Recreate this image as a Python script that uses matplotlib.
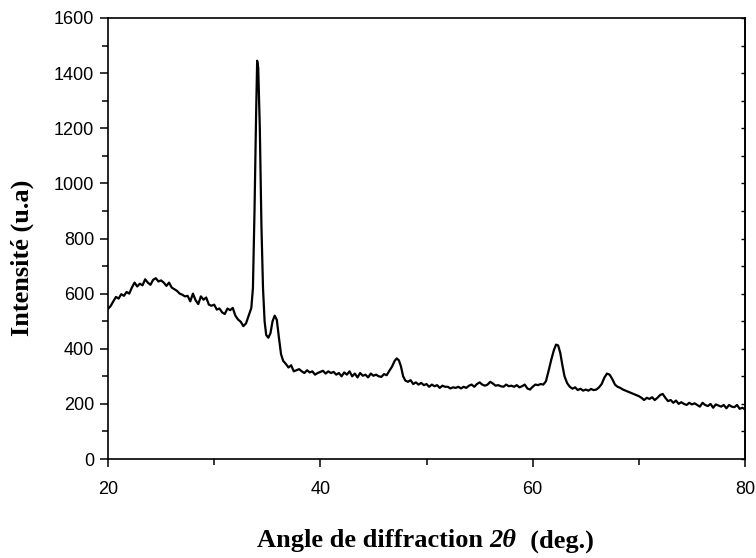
import matplotlib
matplotlib.use("Agg")
import matplotlib.pyplot as plt
from matplotlib.ticker import MultipleLocator
from matplotlib.offsetbox import TextArea, HPacker, AnchoredOffsetbox

two_theta = [
    20.00, 20.25, 20.50, 20.75, 21.00, 21.25, 21.50, 21.75, 22.00, 22.25,
    22.50, 22.75, 23.00, 23.25, 23.50, 23.75, 24.00, 24.25, 24.50, 24.75,
    25.00, 25.25, 25.50, 25.75, 26.00, 26.25, 26.50, 26.75, 27.00, 27.25,
    27.50, 27.75, 28.00, 28.25, 28.50, 28.75, 29.00, 29.25, 29.50, 29.75,
    30.00, 30.25, 30.50, 30.75, 31.00, 31.25, 31.50, 31.75, 32.00, 32.25,
    32.50, 32.75, 33.00, 33.25, 33.50, 33.65, 33.80, 33.95, 34.05, 34.15,
    34.30, 34.45, 34.60, 34.75, 34.90, 35.10, 35.30, 35.50, 35.70, 35.90,
    36.10, 36.30, 36.50, 36.75, 37.00, 37.25, 37.50, 37.75, 38.00, 38.25,
    38.50, 38.75, 39.00, 39.25, 39.50, 39.75, 40.00, 40.25, 40.50, 40.75,
    41.00, 41.25, 41.50, 41.75, 42.00, 42.25, 42.50, 42.75, 43.00, 43.25,
    43.50, 43.75, 44.00, 44.25, 44.50, 44.75, 45.00, 45.25, 45.50, 45.75,
    46.00, 46.25, 46.50, 46.75, 47.00, 47.20, 47.40, 47.60, 47.80, 48.00,
    48.25, 48.50, 48.75, 49.00, 49.25, 49.50, 49.75, 50.00, 50.25, 50.50,
    50.75, 51.00, 51.25, 51.50, 51.75, 52.00, 52.25, 52.50, 52.75, 53.00,
    53.25, 53.50, 53.75, 54.00, 54.25, 54.50, 54.75, 55.00, 55.25, 55.50,
    55.75, 56.00, 56.25, 56.50, 56.75, 57.00, 57.25, 57.50, 57.75, 58.00,
    58.25, 58.50, 58.75, 59.00, 59.25, 59.50, 59.75, 60.00, 60.25, 60.50,
    60.75, 61.00, 61.25, 61.50, 61.75, 62.00, 62.20, 62.40, 62.60, 62.80,
    63.00, 63.25, 63.50, 63.75, 64.00, 64.25, 64.50, 64.75, 65.00, 65.25,
    65.50, 65.75, 66.00, 66.25, 66.50, 66.75, 67.00, 67.25, 67.50, 67.75,
    68.00, 68.25, 68.50, 68.75, 69.00, 69.25, 69.50, 69.75, 70.00, 70.25,
    70.50, 70.75, 71.00, 71.25, 71.50, 71.75, 72.00, 72.25, 72.50, 72.75,
    73.00, 73.25, 73.50, 73.75, 74.00, 74.25, 74.50, 74.75, 75.00, 75.25,
    75.50, 75.75, 76.00, 76.25, 76.50, 76.75, 77.00, 77.25, 77.50, 77.75,
    78.00, 78.25, 78.50, 78.75, 79.00, 79.25, 79.50, 79.75, 80.00,
]

intensity = [
    545, 555, 572, 588, 582, 598, 592, 606, 600, 622,
    640, 626, 636, 630, 652, 640, 632, 650, 656, 644,
    648, 640, 628, 640, 622, 616, 610, 600, 596, 590,
    592, 572, 600, 576, 562, 590, 578, 586, 560, 556,
    560, 542, 546, 532, 526, 546, 540, 548, 520, 506,
    498, 482, 492, 520, 548, 620, 900, 1250, 1445, 1420,
    1200, 850, 620, 500, 450, 440, 456, 500, 520, 505,
    440, 380, 356, 345, 332, 340, 318, 322, 326, 318,
    312, 322, 314, 318, 306, 312, 316, 320, 310, 318,
    312, 316, 306, 312, 300, 314, 306, 318, 300, 310,
    296, 312, 302, 306, 296, 310, 302, 306, 300, 298,
    308, 304, 320, 335, 356, 365, 358, 335, 300, 285,
    280, 286, 272, 278, 270, 276, 268, 272, 262, 270,
    264, 268, 258, 266, 262, 262, 256, 260, 258, 262,
    256, 262, 258, 266, 270, 262, 272, 278, 270, 266,
    270, 280, 274, 266, 268, 264, 262, 270, 264, 266,
    262, 268, 260, 264, 270, 256, 252, 262, 270, 268,
    272, 270, 282, 320, 360, 395, 415, 412, 385, 340,
    300, 275, 262, 255, 260, 250, 255, 248, 252, 248,
    254, 250, 252, 260, 272, 295, 310, 306, 290, 270,
    262, 258, 252, 248, 244, 240, 236, 232, 228, 222,
    214, 222, 218, 224, 214, 222, 232, 236, 222, 210,
    214, 204, 212, 200, 206, 200, 196, 204, 198, 202,
    196, 190, 204, 196, 192, 200, 186, 198, 194, 190,
    196, 184, 196, 190, 188, 196, 182, 186, 180,
]

x_ticks = [20, 40, 60, 80]
y_ticks = [0, 200, 400, 600, 800, 1000, 1200, 1400, 1600]

fig = plt.figure(figsize=(7.56, 5.58), dpi=100)
ax = fig.add_axes([108/756, 1 - 459/558, (745-108)/756, (459-18)/558])

ax.plot(two_theta, intensity, color="black", linewidth=1.6)

ax.set_xlim(20, 80)
ax.set_ylim(0, 1600)
ax.set_xticks(x_ticks)
ax.set_yticks(y_ticks)
ax.xaxis.set_minor_locator(MultipleLocator(10))
ax.yaxis.set_minor_locator(MultipleLocator(100))

for s in ax.spines.values():
    s.set_linewidth(1.2)

ax.tick_params(axis="both", which="major", direction="out", length=6, width=1.1,
               labelsize=13)
ax.tick_params(axis="x", which="major", pad=10)
ax.tick_params(axis="y", which="major", pad=4)
ax.tick_params(axis="both", which="minor", direction="out", length=4, width=1.1)
for lab in ax.get_xticklabels() + ax.get_yticklabels():
    lab.set_fontfamily("Liberation Sans")

# inward ticks on the right spine
ax2 = ax.secondary_yaxis("right")
ax2.set_yticks(y_ticks)
ax2.yaxis.set_minor_locator(MultipleLocator(100))
ax2.tick_params(direction="in", length=3, width=1.0, labelright=False, which="both")
ax2.spines["right"].set_linewidth(1.2)

# x label with bold-italic "2θ"
bold = dict(family="Liberation Serif", weight="bold", size=19, color="black")
bold_it = dict(family="Liberation Serif", weight="bold", style="italic", size=19,
               color="black")
parts = HPacker(children=[
    TextArea("Angle de diffraction ", textprops=bold),
    TextArea("2θ", textprops=bold_it),
    TextArea("  (deg.)", textprops=bold),
], align="baseline", pad=0, sep=0)
anch = AnchoredOffsetbox(loc="center", child=parts, frameon=False, pad=0,
                         bbox_to_anchor=(0.498, -(541 - 459) / 441),
                         bbox_transform=ax.transAxes, borderpad=0)
ax.add_artist(anch)

ax.set_ylabel("Intensité (u.a)", fontfamily="Liberation Serif",
              fontweight="bold", fontsize=19, va="center")
ax.yaxis.set_label_coords((22 - 108) / 637, (459 - 258) / 441)

fig.savefig("out.png", dpi=100)
